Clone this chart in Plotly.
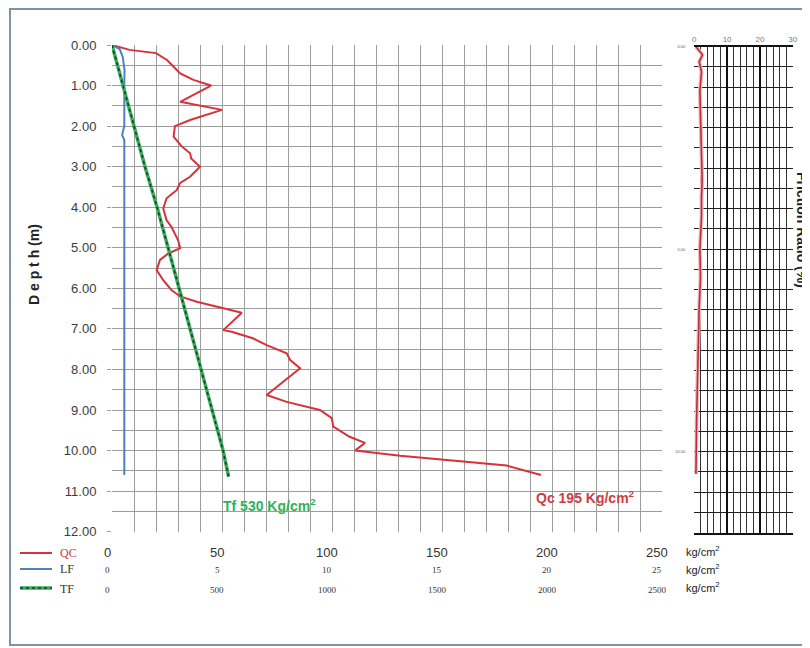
import plotly.graph_objects as go

# ---------------- data ----------------
qc_depth = [0.00, 0.12, 0.20, 0.37, 0.70, 0.86, 1.00, 1.40, 1.60, 1.85, 2.00, 2.26, 2.50, 2.67,
            2.80, 3.00, 3.25, 3.40, 3.58, 3.78, 4.03, 4.32, 4.48, 4.81, 5.01, 5.14, 5.30, 5.55,
            5.80, 6.04, 6.20, 6.33, 6.60, 7.03, 7.07, 7.23, 7.40, 7.60, 7.77, 7.97, 8.63, 8.80,
            9.00, 9.20, 9.41, 9.66, 9.81, 10.00, 10.13, 10.37, 10.60]
qc_values = [0, 8, 20, 25, 31, 37, 45, 31, 50, 35.5, 28.6, 28, 31.7, 35.5,
             36, 40, 35.5, 31, 29.4, 24.8, 23.3, 24.8, 27, 30, 31, 25.6, 21.8, 20.3,
             23.3, 27, 31, 38.5, 59, 50.6, 54.4, 64, 70.3, 79.4, 81, 85.5, 70.3, 79.4,
             94.5, 99.9, 100.6, 108, 115, 110.5, 131, 179.4, 195]

lf_depth = [0.00, 0.10, 0.30, 0.62, 1.00, 2.00, 2.12, 2.22, 2.34, 3.00, 4.00, 5.00, 6.00,
            7.00, 8.00, 9.00, 10.00, 10.60]
lf_values = [0.0, 0.35, 0.49, 0.57, 0.56, 0.56, 0.50, 0.46, 0.56, 0.56, 0.56, 0.56, 0.56,
             0.56, 0.56, 0.56, 0.56, 0.56]

tf_depth = [0.0, 1.0, 2.0, 3.0, 4.0, 5.0, 6.0, 7.0, 8.0, 9.0, 10.0, 10.64]
tf_values = [0, 50, 98, 150, 205, 255, 305, 355, 408, 458, 505, 530]

fr_depth = [0.00, 0.20, 0.37, 0.62, 1.10, 1.70, 2.50, 3.30, 3.70, 4.20, 5.00, 5.70, 6.40,
            7.30, 7.90, 9.20, 10.55]
fr_values = [0.5, 2.5, 1.5, 2.2, 1.7, 1.9, 2.2, 2.4, 2.2, 2.2, 1.7, 1.9, 1.5,
             1.2, 1.0, 0.7, 0.5]

depth_ticks = [0, 1, 2, 3, 4, 5, 6, 7, 8, 9, 10, 11, 12]
qc_ticks = [0, 50, 100, 150, 200, 250]
lf_ticks = [0, 5, 10, 15, 20, 25]
tf_ticks = [0, 500, 1000, 1500, 2000, 2500]
fr_ticks = [0, 10, 20, 30]
fr_depth_ticks = [0, 5, 10]

# ---------------- helpers (window pixel -> paper) ----------------
# the page body adds an 8px offset before the figure starts
W, H = 810, 648
OX, OY = 8, 8
def px(x):
    return (x - OX) / W
def py(y):
    return 1 - (y - OY) / H

RED = "#d6323c"
BLUE = "#4f81bd"
GREEN = "#35ad5c"
GRID = "#9d9d9d"

fig = go.Figure()

# QC
fig.add_trace(go.Scatter(x=qc_values, y=qc_depth, mode="lines", xaxis="x", yaxis="y",
                         line=dict(color=RED, width=2), showlegend=False))
# LF
fig.add_trace(go.Scatter(x=lf_values, y=lf_depth, mode="lines", xaxis="x3", yaxis="y",
                         line=dict(color=BLUE, width=2), showlegend=False))
# TF (green line with black dots)
fig.add_trace(go.Scatter(x=tf_values, y=tf_depth, mode="lines", xaxis="x4", yaxis="y",
                         line=dict(color=GREEN, width=3.5), showlegend=False))
fig.add_trace(go.Scatter(x=tf_values, y=tf_depth, mode="lines", xaxis="x4", yaxis="y",
                         line=dict(color="#1d3b24", width=1.6, dash="dot"), showlegend=False))
# Friction ratio
fig.add_trace(go.Scatter(x=fr_values, y=fr_depth, mode="lines", xaxis="x2", yaxis="y2",
                         line=dict(color="#f3b9bd", width=4), showlegend=False))
fig.add_trace(go.Scatter(x=fr_values, y=fr_depth, mode="lines", xaxis="x2", yaxis="y2",
                         line=dict(color="#b5303c", width=1.6), showlegend=False))

main_dom_x = [px(112), px(662)]
main_dom_y = [py(531.7), py(45)]

fig.update_layout(
    width=W, height=H, autosize=False,
    margin=dict(l=0, r=0, t=0, b=0, pad=0, autoexpand=False),
    paper_bgcolor="white", plot_bgcolor="rgba(0,0,0,0)",
    font=dict(family="Liberation Sans, Arial, sans-serif", color="#333"),
    xaxis=dict(domain=main_dom_x, range=[0, 250], dtick=10, showticklabels=False,
               showgrid=True, gridcolor=GRID, gridwidth=1, zeroline=False,
               showline=False, ticks="", anchor="y", fixedrange=True, automargin=False),
    xaxis3=dict(domain=main_dom_x, range=[0, 25], overlaying="x", visible=False,
                anchor="y"),
    xaxis4=dict(domain=main_dom_x, range=[0, 2500], overlaying="x", visible=False,
                anchor="y"),
    yaxis=dict(domain=main_dom_y, range=[12, 0], tickvals=depth_ticks,
               ticktext=[f"{v:.2f}" for v in depth_ticks],
               tickfont=dict(size=13, color="#3c3c3c", family="Liberation Sans, Arial"),
               showgrid=True, gridcolor=GRID, gridwidth=1, zeroline=False,
               ticks="outside", ticklen=4, tickcolor=GRID, ticklabelstandoff=8,
               minor=dict(dtick=0.5, showgrid=True, gridcolor=GRID, gridwidth=1),
               anchor="x", fixedrange=True, automargin=False),
    xaxis2=dict(domain=[px(694.3), px(792.7)], range=[0, 30], tickvals=fr_ticks,
                side="top", tickfont=dict(size=8, color="#777"),
                showgrid=True, gridcolor="#111", gridwidth=2, zeroline=False,
                showline=True, linecolor="#111", linewidth=1.5, mirror=True,
                ticks="", minor=dict(dtick=2, showgrid=True, gridcolor="#333", gridwidth=1),
                anchor="y2", fixedrange=True, automargin=False),
    yaxis2=dict(domain=[py(532.7), py(46.7)], range=[12, 0], tickvals=fr_depth_ticks,
                ticktext=[f"{v:.2f}" for v in fr_depth_ticks],
                tickfont=dict(size=4, color="#555"), ticklabelstandoff=8,
                showgrid=True, gridcolor="#222", gridwidth=1, zeroline=False,
                showline=False, ticks="",
                minor=dict(dtick=0.5, showgrid=True, gridcolor="#222", gridwidth=1),
                anchor="x2", fixedrange=True, automargin=False),
)

ann = []
# bottom axis rows
for v in qc_ticks:
    ann.append(dict(x=v, y=py(552), xref="x", yref="paper", text=str(v), showarrow=False,
                    xanchor="center", yanchor="middle", xshift=-5,
                    font=dict(size=13, color="#333", family="Liberation Sans, Arial")))
for v in lf_ticks:
    ann.append(dict(x=v, y=py(570), xref="x3", yref="paper", text=str(v), showarrow=False,
                    xanchor="center", yanchor="middle", xshift=-5,
                    font=dict(size=9, color="#333", family="Liberation Serif, serif")))
for v in tf_ticks:
    ann.append(dict(x=v, y=py(590), xref="x4", yref="paper", text=str(v), showarrow=False,
                    xanchor="center", yanchor="middle", xshift=-5,
                    font=dict(size=9, color="#333", family="Liberation Serif, serif")))
for yy in (551, 569, 587):
    ann.append(dict(x=px(684), y=py(yy), xref="paper", yref="paper", text="kg/cm<sup>2</sup>",
                    showarrow=False, xanchor="left", yanchor="middle",
                    font=dict(size=11, color="#222", family="Liberation Sans, Arial")))

# legend texts
for name, yy, col in (("QC", 553, "#d03a3a"), ("LF", 569, "#333"), ("TF", 589, "#333")):
    ann.append(dict(x=px(58), y=py(yy), xref="paper", yref="paper", text=name, showarrow=False,
                    xanchor="left", yanchor="middle",
                    font=dict(size=12, color=col, family="Liberation Serif, serif")))

# axis titles
ann.append(dict(x=px(34), y=py(265), xref="paper", yref="paper", text="<b>D e p t h (m)</b>",
                textangle=-90, showarrow=False, xanchor="center", yanchor="middle",
                font=dict(size=14, color="#222", family="Liberation Sans, Arial")))
ann.append(dict(x=px(802), y=py(230), xref="paper", yref="paper", text="<b>Friction Ratio (%)</b>",
                textangle=90, showarrow=False, xanchor="center", yanchor="middle",
                font=dict(size=14, color="#222", family="Liberation Sans, Arial")))
# line labels
ann.append(dict(x=49.5, y=11.35, xref="x", yref="y", text="<b>Tf 530 Kg/cm<sup>2</sup></b>",
                showarrow=False, xanchor="left", yanchor="middle",
                font=dict(size=14, color="#2db35a", family="Liberation Sans, Arial")))
ann.append(dict(x=192, y=11.15, xref="x", yref="y", text="<b>Qc 195 Kg/cm<sup>2</sup></b>",
                showarrow=False, xanchor="left", yanchor="middle",
                font=dict(size=14, color="#d03a45", family="Liberation Sans, Arial")))
fig.update_layout(annotations=ann)

shapes = [
    # outer frame (top edge sits at the figure's top)
    dict(type="rect", xref="paper", yref="paper", x0=px(10), x1=px(830), y0=py(645), y1=py(9),
         line=dict(color="#7f93a8", width=2), fillcolor="rgba(0,0,0,0)"),
    # legend samples
    dict(type="line", xref="paper", yref="paper", x0=px(20), x1=px(52), y0=py(553), y1=py(553),
         line=dict(color=RED, width=2)),
    dict(type="line", xref="paper", yref="paper", x0=px(20), x1=px(52), y0=py(569), y1=py(569),
         line=dict(color=BLUE, width=2)),
    dict(type="line", xref="paper", yref="paper", x0=px(20), x1=px(52), y0=py(588), y1=py(588),
         line=dict(color=GREEN, width=3.5)),
    dict(type="line", xref="paper", yref="paper", x0=px(20), x1=px(52), y0=py(588), y1=py(588),
         line=dict(color="#1d3b24", width=1.6, dash="dot")),
]
fig.update_layout(shapes=shapes)

fig.write_html("out.html")
